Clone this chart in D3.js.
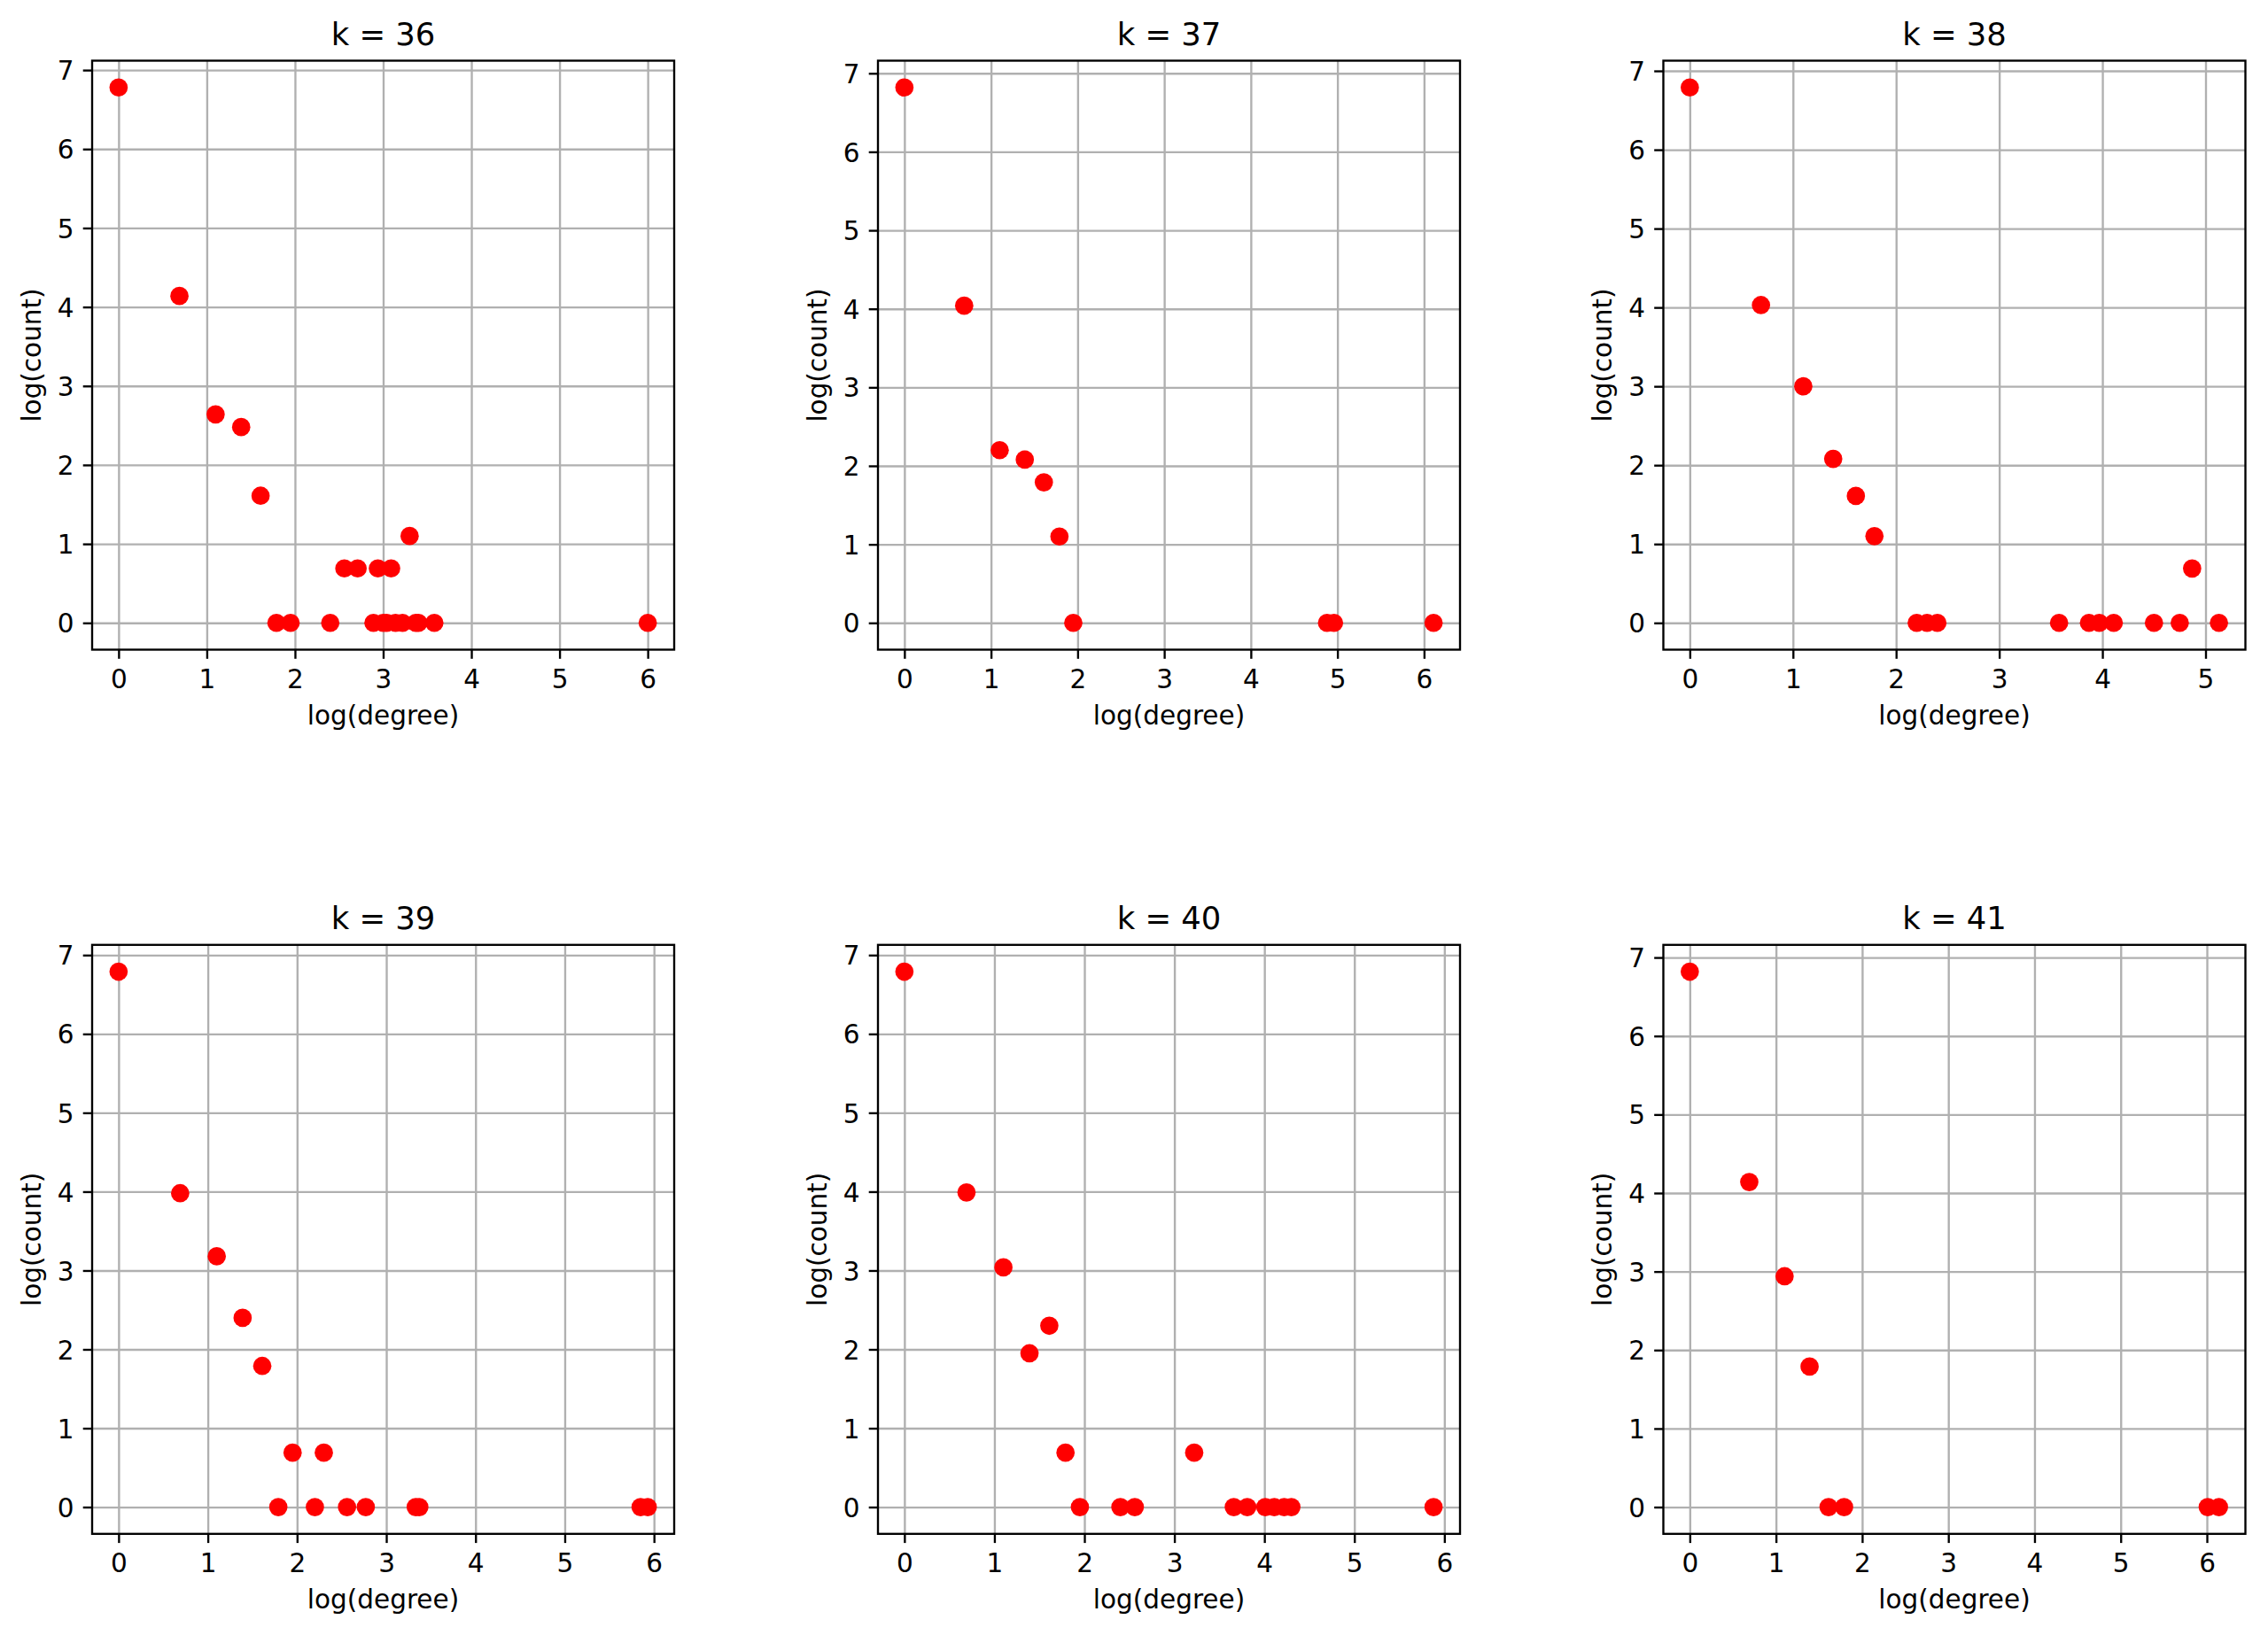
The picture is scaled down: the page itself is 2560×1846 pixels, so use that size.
<!DOCTYPE html>
<html>
<head>
<meta charset="utf-8">
<title>Degree distribution, k = 36..41</title>
<script src="https://cdn.jsdelivr.net/npm/d3@7"></script>
<style>
  body { margin: 0; background: #fff; }
  svg text { font-family: "DejaVu Sans", sans-serif; fill: #000; }
  .grid line { stroke: #b0b0b0; stroke-width: 2.36px; }
  .axis line { stroke: #000; stroke-width: 2.36px; }
  .axis text { font-size: 29.5px; }
  .axis-label { font-size: 29.5px; }
  .title { font-size: 35.4px; }
</style>
</head>
<body>
<svg id="chart"></svg>
<script>
// 2x3 grid of log-log degree distributions, one panel per k
// values

const panelK = [36, 37, 38, 39, 40, 41];

// log(degree) / log(count) for each panel
const logDegree36 = [0, 0.69, 1.10, 1.39, 1.61, 1.79, 1.95, 2.40, 2.56, 2.71, 2.89, 2.94, 3.00, 3.04, 3.09, 3.14, 3.22, 3.30, 3.37, 3.40, 3.58, 6.00];
const logCount36  = [6.78, 4.14, 2.64, 2.48, 1.61, 0, 0, 0, 0.69, 0.69, 0, 0.69, 0, 0, 0.69, 0, 0, 1.10, 0, 0, 0, 0];

const logDegree37 = [0, 0.69, 1.10, 1.39, 1.61, 1.79, 1.95, 4.88, 4.96, 6.11];
const logCount37  = [6.82, 4.04, 2.20, 2.08, 1.79, 1.10, 0, 0, 0, 0];

const logDegree38 = [0, 0.69, 1.10, 1.39, 1.61, 1.79, 2.20, 2.30, 2.40, 3.58, 3.87, 3.97, 4.11, 4.50, 4.75, 4.87, 5.13];
const logCount38  = [6.79, 4.03, 3.00, 2.08, 1.61, 1.10, 0, 0, 0, 0, 0, 0, 0, 0, 0, 0.69, 0];

const logDegree39 = [0, 0.69, 1.10, 1.39, 1.61, 1.79, 1.95, 2.20, 2.30, 2.56, 2.77, 3.33, 3.37, 5.85, 5.93];
const logCount39  = [6.79, 3.98, 3.18, 2.40, 1.79, 0, 0.69, 0, 0.69, 0, 0, 0, 0, 0, 0];

const logDegree40 = [0, 0.69, 1.10, 1.39, 1.61, 1.79, 1.95, 2.40, 2.56, 3.22, 3.66, 3.81, 4.01, 4.11, 4.22, 4.30, 5.88];
const logCount40  = [6.79, 3.99, 3.04, 1.95, 2.30, 0.69, 0, 0, 0, 0.69, 0, 0, 0, 0, 0, 0, 0];

const logDegree41 = [0, 0.69, 1.10, 1.39, 1.61, 1.79, 6.01, 6.14];
const logCount41  = [6.82, 4.14, 2.94, 1.79, 0, 0, 0, 0];

const panelX = [logDegree36, logDegree37, logDegree38, logDegree39, logDegree40, logDegree41];
const panelY = [logCount36, logCount37, logCount38, logCount39, logCount40, logCount41];

// tick labels
const xTicks6 = [0, 1, 2, 3, 4, 5, 6];
const xTicks5 = [0, 1, 2, 3, 4, 5];
const panelXTicks = [xTicks6, xTicks6, xTicks5, xTicks6, xTicks6, xTicks6];
const yTicks = [0, 1, 2, 3, 4, 5, 6, 7];

// layout (pixels)
const FIG_W = 2560, FIG_H = 1846;
const COL_LEFT = [104, 991, 1877.5];
const ROW_TOP = [68.5, 1066.8];
const AX_W = 657, AX_H = 665;
const TICK_LEN = 10.3, TICK_PAD = 10.3;
const DOT_R = 10.35;

const svg = d3.select('#chart')
  .attr('width', FIG_W)
  .attr('height', FIG_H)
  .attr('viewBox', `0 0 ${FIG_W} ${FIG_H}`);

// matplotlib style autoscale: 5% margin on each side
function paddedExtent(values) {
  const [lo, hi] = d3.extent(values);
  const m = (hi - lo) * 0.05;
  return [lo - m, hi + m];
}

function drawPanel(i) {
  const left = COL_LEFT[i % 3];
  const top = ROW_TOP[Math.floor(i / 3)];
  const xs = panelX[i], ys = panelY[i];

  const x = d3.scaleLinear().domain(paddedExtent(xs)).range([0, AX_W]);
  const y = d3.scaleLinear().domain(paddedExtent(ys)).range([AX_H, 0]);

  const g = svg.append('g')
    .attr('transform', `translate(${left},${top})`);

  // grid
  g.append('g')
    .attr('class', 'grid')
    .attr('transform', `translate(0,${AX_H})`)
    .call(d3.axisBottom(x).tickValues(panelXTicks[i]).tickSize(-AX_H).tickFormat(''))
    .call(s => s.select('.domain').remove());

  g.append('g')
    .attr('class', 'grid')
    .call(d3.axisLeft(y).tickValues(yTicks).tickSize(-AX_W).tickFormat(''))
    .call(s => s.select('.domain').remove());

  // points, clipped to the axes box
  const clipId = `clip-${i}`;
  g.append('clipPath').attr('id', clipId)
    .append('rect').attr('width', AX_W).attr('height', AX_H);

  g.append('g')
    .attr('clip-path', `url(#${clipId})`)
    .selectAll('circle')
    .data(xs.map((d, j) => ({ x: d, y: ys[j] })))
    .join('circle')
    .attr('cx', d => x(d.x))
    .attr('cy', d => y(d.y))
    .attr('r', DOT_R)
    .attr('fill', '#ff0000');

  // spines
  g.append('rect')
    .attr('width', AX_W)
    .attr('height', AX_H)
    .attr('fill', 'none')
    .attr('stroke', '#000')
    .attr('stroke-width', 2.36);

  // axes
  g.append('g')
    .attr('class', 'axis')
    .attr('transform', `translate(0,${AX_H})`)
    .call(d3.axisBottom(x).tickValues(panelXTicks[i]).tickSize(TICK_LEN).tickPadding(TICK_PAD).tickFormat(d3.format('d')))
    .call(s => s.select('.domain').remove())
    .call(s => s.selectAll('text').attr('dy', '0.76em'));

  g.append('g')
    .attr('class', 'axis')
    .call(d3.axisLeft(y).tickValues(yTicks).tickSize(TICK_LEN).tickPadding(TICK_PAD).tickFormat(d3.format('d')))
    .call(s => s.select('.domain').remove())
    .call(s => s.selectAll('text').attr('dy', '0.36em'));

  // labels and title
  g.append('text')
    .attr('class', 'axis-label')
    .attr('x', AX_W / 2)
    .attr('y', AX_H + 84)
    .attr('text-anchor', 'middle')
    .text('log(degree)');

  g.append('text')
    .attr('class', 'axis-label')
    .attr('transform', 'rotate(-90)')
    .attr('x', -AX_H / 2)
    .attr('y', -58.5)
    .attr('text-anchor', 'middle')
    .text('log(count)');

  g.append('text')
    .attr('class', 'title')
    .attr('x', AX_W / 2)
    .attr('y', -17.7)
    .attr('text-anchor', 'middle')
    .text(`k = ${panelK[i]}`);
}

panelK.forEach((k, i) => drawPanel(i));
</script>
</body>
</html>
